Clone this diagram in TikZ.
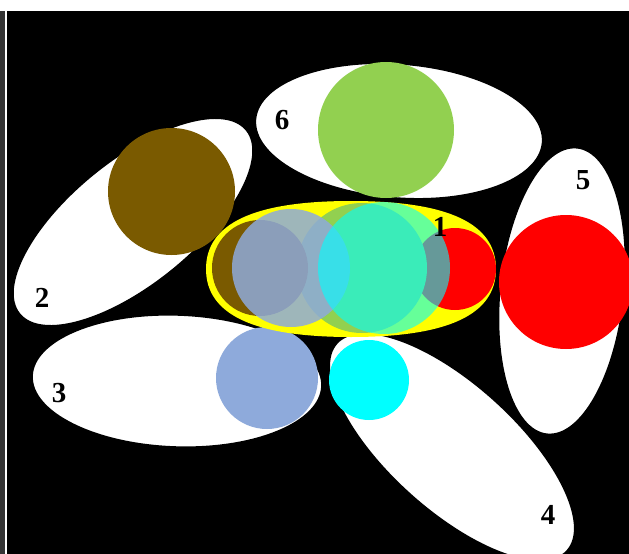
\documentclass[tikz,border=0pt]{standalone}
\usepackage{fontspec}
\setmainfont{Liberation Serif}
\begin{document}
\begin{tikzpicture}[x=1pt,y=1pt,
  lab/.style={font=\fontsize{29}{29}\selectfont\bfseries, text=black, inner sep=0pt},
  blob/.style={fill=white, draw=black, line width=1.5pt}]
\definecolor{cbrown}{RGB}{122,90,0}
\definecolor{cgreen}{RGB}{146,208,80}
\definecolor{clav}{RGB}{142,170,219}
\definecolor{cyel}{RGB}{255,255,0}
\definecolor{ccyan}{RGB}{0,255,255}
\definecolor{cred}{RGB}{255,0,0}
\definecolor{cstrip}{RGB}{52,52,52}
\def\cpath{(496,-269) .. controls (496,-223.4) and (448.2,-201) .. (351,-201) .. controls (253.8,-201) and (206,-223.4) .. (206,-269) .. controls (206,-314.6) and (253.8,-337) .. (351,-337) .. controls (448.2,-337) and (496,-314.6) .. (496,-269) -- cycle}
\useasboundingbox (0,0) rectangle (629,-554);
% background
\fill[black] (0,0) rectangle (629,-554);
\fill[cstrip] (0,-11) rectangle (5,-554);
\fill[white] (5,-11) rectangle (7,-554);
\fill[white] (0,0) rectangle (629,-11);
% outer clusters
\path[blob, rotate around={39:(133,-222)}] (133,-222) ellipse [x radius=146, y radius=62];
\path[blob, rotate around={-2:(177,-381)}] (177,-381) ellipse [x radius=145, y radius=66];
\path[blob, rotate around={-42:(452,-447)}] (452,-447) ellipse [x radius=155, y radius=63];
\path[blob, rotate around={-6:(562,-291)}] (562,-291) ellipse [x radius=62, y radius=144];
\path[blob, rotate around={-4.6:(399,-131)}] (399,-131) ellipse [x radius=144, y radius=67];
\fill[cbrown] (171.5,-191.5) circle (63.5);
\fill[clav] (267,-378) circle (51);
\fill[ccyan] (369,-380) circle (40);
\fill[cred] (566,-282) circle (67);
\fill[cgreen] (386,-130) circle (68);
% central cluster
\fill[cyel] \cpath;
\begin{scope}
  \clip \cpath;
  \fill[cred] (455,-269) circle (41);
  \fill[cgreen] (362,-268) circle (65);
  \fill[cbrown] (260,-268) circle (48);
  \fill[clav, opacity=0.85] (291,-268) circle (59);
  \fill[ccyan, opacity=0.6] (384,-268) circle (66);
\end{scope}
\begin{scope}
  \clip (420,-200) rectangle (460,-236);
  \node[lab] (l1) at (440,-227) {1};
\end{scope}
% labels
\node[lab] (l2) at (42,-298) {2};
\node[lab] (l3) at (59,-393) {3};
\node[lab] (l4) at (548,-515) {4};
\node[lab] (l5) at (583,-180) {5};
\node[lab] (l6) at (282,-120) {6};
\end{tikzpicture}
\end{document}
